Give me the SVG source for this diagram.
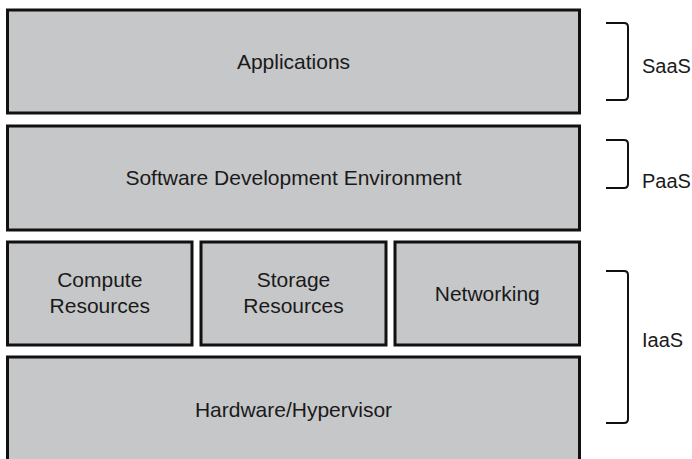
<svg xmlns="http://www.w3.org/2000/svg" width="692" height="459" viewBox="0 0 692 459">
<style>
.box{fill:#c6c7c9;stroke:#111;stroke-width:3}
.t{font-family:"Liberation Sans",Arial,sans-serif;font-size:21px;fill:#1a1a1a;text-anchor:middle}
.l{font-family:"Liberation Sans",Arial,sans-serif;font-size:20px;fill:#1a1a1a}
.br{fill:none;stroke:#111;stroke-width:2}
</style>
<rect width="692" height="459" fill="#fff"/>
<g id="applications"><rect class="box" x="7.5" y="10" width="572" height="103"/><text class="t" x="293.5" y="69">Applications</text></g>
<g id="sde"><rect class="box" x="7.5" y="126" width="572" height="104"/><text class="t" x="293.5" y="185">Software Development Environment</text></g>
<g id="compute"><rect class="box" x="7.5" y="242" width="184.5" height="103"/><text class="t" x="99.75" y="287">Compute</text><text class="t" x="99.75" y="313">Resources</text></g>
<g id="storage"><rect class="box" x="201" y="242" width="185" height="103"/><text class="t" x="293.5" y="287">Storage</text><text class="t" x="293.5" y="313">Resources</text></g>
<g id="networking"><rect class="box" x="395" y="242" width="184.5" height="103"/><text class="t" x="487.25" y="301">Networking</text></g>
<g id="hardware"><rect class="box" x="7.5" y="357" width="572" height="115"/><text class="t" x="293.5" y="417">Hardware/Hypervisor</text></g>
<g id="brackets">
<path class="br" d="M606,23 H624 Q628,23 628,27 V96 Q628,100 624,100 H606"/>
<path class="br" d="M606,140 H624 Q628,140 628,144 V184 Q628,188 624,188 H606"/>
<path class="br" d="M606,271 H624 Q628,271 628,275 V419 Q628,423 624,423 H606"/>
</g>
<g id="saas"><text class="l" x="642" y="73">SaaS</text></g>
<g id="paas"><text class="l" x="642" y="188">PaaS</text></g>
<g id="iaas"><text class="l" x="642" y="347">IaaS</text></g>
</svg>
